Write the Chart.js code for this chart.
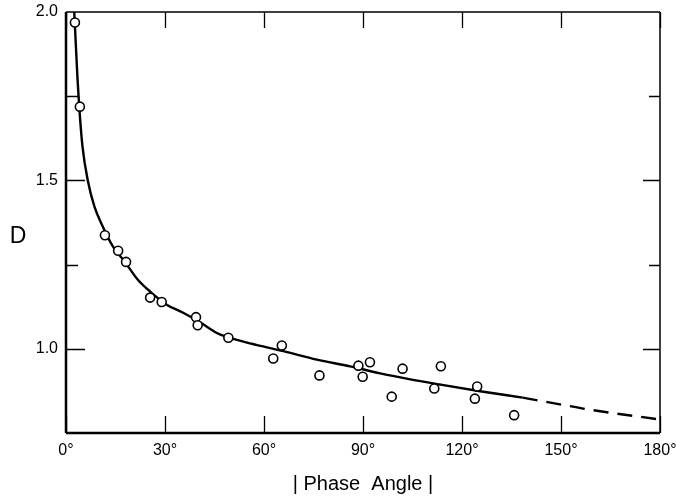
<!DOCTYPE html>
<html lang="en">
<head>
  <meta charset="UTF-8" />
  <title>D vs Phase Angle</title>
  <script src="https://cdn.jsdelivr.net/npm/chart.js"></script>
  <style>
    body {
      margin: 0;
      background: #ffffff;
    }
    #wrap {
      width: 676px;
      height: 498px;
    }
  </style>
</head>
<body>
  <div id="wrap">
    <canvas id="chart" width="676" height="498"></canvas>
  </div>

  <script>
    // observed points (phase angle in degrees, D)
    const obsPhase = [2.7, 4.2, 11.8, 15.8, 18.2, 25.5, 29.0, 39.4, 39.9, 49.2, 62.8, 65.4, 76.8,
                      88.6, 89.9, 92.1, 98.7, 102.0, 111.6, 113.6, 123.9, 124.6, 135.8];
    const obsD = [1.969, 1.719, 1.337, 1.291, 1.258, 1.152, 1.139, 1.094, 1.070, 1.033, 0.971, 1.010, 0.921,
                  0.950, 0.917, 0.960, 0.858, 0.941, 0.882, 0.948, 0.852, 0.888, 0.803];

    // fitted curve, solid part
    const curvePhase = [2.5, 3.5, 4.0, 5.0, 6.6, 8.6, 11.1, 14.2, 17.7, 21.7, 25.5, 30.5, 35.5, 40.6,
                        45.7, 49.2, 55.8, 65.9, 76.0, 86.1, 95.2, 104.0, 113.3, 125.5, 138.4];
    const curveD = [2.0, 1.80, 1.72, 1.60, 1.50, 1.423, 1.364, 1.304, 1.260, 1.206, 1.170, 1.131, 1.107, 1.079,
                    1.047, 1.034, 1.016, 0.993, 0.968, 0.948, 0.927, 0.910, 0.894, 0.874, 0.855];

    // extrapolated part (dashed)
    const extPhase = [138.4, 149.7, 158.3, 180];
    const extD = [0.855, 0.835, 0.820, 0.790];

    const xTicks = [0, 30, 60, 90, 120, 150, 180];
    const yMajor = [1.0, 1.5];
    const yMinor = [1.25, 1.75];

    const FONT = "'Liberation Sans', Arial, sans-serif";

    function pts(xs, ys) {
      return xs.map((x, i) => ({ x: x, y: ys[i] }));
    }

    function noPad(s) {
      s.paddingLeft = 0;
      s.paddingRight = 0;
      s.paddingTop = 0;
      s.paddingBottom = 0;
    }

    // frame, inward ticks and the "D" label
    const framePlugin = {
      id: 'frame',
      afterDraw(chart) {
        const ctx = chart.ctx;
        const xs = chart.scales.x;
        const ys = chart.scales.y;
        const a = chart.chartArea;
        ctx.save();
        ctx.strokeStyle = '#000';

        ctx.lineWidth = 1.5;
        ctx.beginPath();
        ctx.moveTo(a.left, a.top);
        ctx.lineTo(a.right, a.top);
        ctx.moveTo(a.right, a.top);
        ctx.lineTo(a.right, a.bottom);
        ctx.stroke();

        ctx.lineWidth = 2.5;
        ctx.beginPath();
        ctx.moveTo(a.left, a.top);
        ctx.lineTo(a.left, a.bottom);
        ctx.moveTo(a.left, a.bottom);
        ctx.lineTo(a.right, a.bottom);
        ctx.stroke();

        ctx.lineWidth = 1.3;
        ctx.beginPath();
        xTicks.forEach(v => {
          const px = Math.round(xs.getPixelForValue(v)) + 0.5;
          ctx.moveTo(px, a.bottom);
          ctx.lineTo(px, a.bottom - 17);
          ctx.moveTo(px, a.top);
          ctx.lineTo(px, a.top + 16);
        });
        yMajor.forEach(v => {
          const py = Math.round(ys.getPixelForValue(v)) + 0.5;
          ctx.moveTo(a.left, py);
          ctx.lineTo(a.left + 19, py);
          ctx.moveTo(a.right, py);
          ctx.lineTo(a.right - 17, py);
        });
        yMinor.forEach(v => {
          const py = Math.round(ys.getPixelForValue(v)) + 0.5;
          ctx.moveTo(a.left, py);
          ctx.lineTo(a.left + 12, py);
          ctx.moveTo(a.right, py);
          ctx.lineTo(a.right - 11, py);
        });
        ctx.stroke();

        ctx.fillStyle = '#000';
        ctx.font = '23px ' + FONT;
        ctx.textAlign = 'center';
        ctx.textBaseline = 'middle';
        ctx.fillText('D', 18, 237);
        ctx.restore();
      }
    };

    new Chart(document.getElementById('chart'), {
      type: 'scatter',
      data: {
        datasets: [
          {
            label: 'observed',
            data: pts(obsPhase, obsD),
            order: 0,
            pointRadius: 4.5,
            pointBorderWidth: 1.6,
            pointBorderColor: '#000',
            pointBackgroundColor: '#fff'
          },
          {
            label: 'curve',
            data: pts(curvePhase, curveD),
            order: 1,
            showLine: true,
            pointRadius: 0,
            borderColor: '#000',
            borderWidth: 2.4,
            cubicInterpolationMode: 'monotone'
          },
          {
            label: 'extrapolation',
            data: pts(extPhase, extD),
            order: 1,
            showLine: true,
            pointRadius: 0,
            borderColor: '#000',
            borderWidth: 2.4,
            borderDash: [15, 9],
            cubicInterpolationMode: 'monotone'
          }
        ]
      },
      options: {
        responsive: false,
        animation: false,
        layout: { padding: { top: 12, right: 16, left: 0, bottom: 0 } },
        plugins: {
          legend: { display: false },
          tooltip: { enabled: false }
        },
        scales: {
          x: {
            type: 'linear',
            min: 0,
            max: 180,
            afterFit: s => { s.height = 65; noPad(s); },
            afterBuildTicks: s => { s.ticks = xTicks.map(v => ({ value: v })); },
            grid: { display: false, drawTicks: false },
            border: { display: false },
            ticks: {
              padding: 8,
              color: '#000',
              maxRotation: 0,
              font: { family: FONT, size: 16 },
              callback: v => v + '°'
            },
            title: {
              display: true,
              text: '| Phase  Angle |',
              color: '#000',
              font: { family: FONT, size: 20 },
              padding: { top: 0, bottom: 2 }
            }
          },
          y: {
            min: 0.75,
            max: 2.0,
            afterFit: s => { s.width = 66; noPad(s); },
            grid: { display: false, drawTicks: false },
            border: { display: false },
            ticks: {
              stepSize: 0.25,
              padding: 8,
              color: '#000',
              font: { family: FONT, size: 16 },
              callback: v => (v % 0.5 === 0 ? v.toFixed(1) : '')
            }
          }
        }
      },
      plugins: [framePlugin]
    });
  </script>
</body>
</html>
